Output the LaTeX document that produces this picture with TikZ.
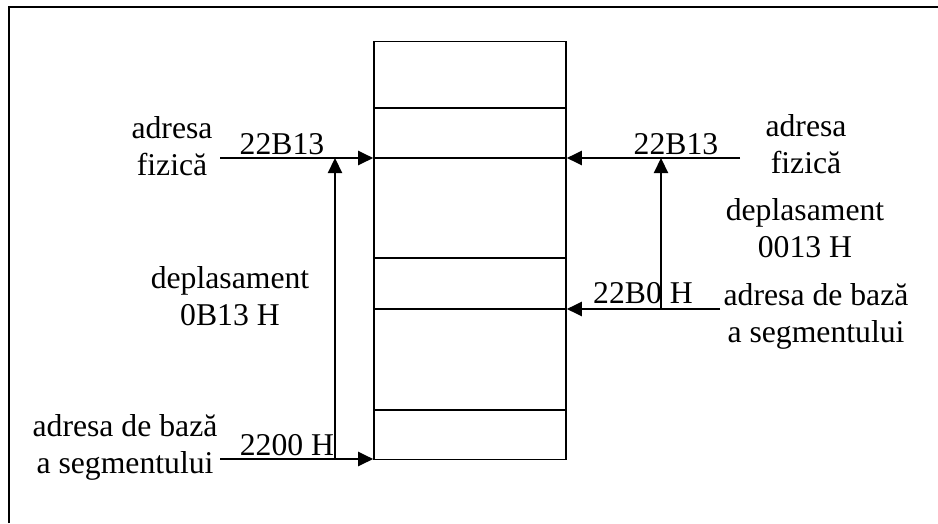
\documentclass[tikz,border=0pt]{standalone}
\usepackage{fontspec}
\setmainfont{Liberation Serif}
\usetikzlibrary{arrows.meta}
\begin{document}
\begin{tikzpicture}[x=1pt,y=-1pt,
  frameline/.style={line width=1.8pt},
  cellline/.style={line width=1.6pt},
  conn/.style={line width=2.2pt,-{Triangle[length=15pt,width=14pt]}},
  lbl/.style={inner sep=0pt,anchor=base,align=center,font=\fontsize{31.7pt}{37pt}\selectfont}]
\useasboundingbox (0,0) rectangle (938,523);
% outer frame (only top and left edges visible)
\draw[frameline] (9,523) -- (9,7) -- (938,7);
% memory column
\node[draw,cellline,minimum width=192pt,minimum height=418pt,inner sep=0pt] (mem) at (470,250.5) {};
\foreach \yy in {108,158,258,309,410}
  \draw[cellline] (mem.west |- 0,\yy) -- (mem.east |- 0,\yy);
% connector targets on the column
\coordinate (phL) at (mem.west |- 0,158);
\coordinate (baseL) at (mem.west |- 0,459);
\coordinate (phR) at (mem.east |- 0,158);
\coordinate (baseR) at (mem.east |- 0,309);
% free ends
\coordinate (phLs) at (220,158);
\coordinate (baseLs) at (220,459);
\coordinate (phRs) at (740,158);
\coordinate (baseRs) at (720,309);
\coordinate (offLb) at (335,459);
\coordinate (offLt) at (335,158);
\coordinate (offRb) at (661,309);
\coordinate (offRt) at (661,158);
% arrows
\draw[conn] (phLs) -- (phL);
\draw[conn] (baseLs) -- (baseL);
\draw[conn] (offLb) -- (offLt);
\draw[conn] (phRs) -- (phR);
\draw[conn] (baseRs) -- (baseR);
\draw[conn] (offRb) -- (offRt);
% labels left (base anchor = baseline of the last line)
\node[lbl] (tphL) at (172,175) {adresa\\fizică};
\node[lbl] (vphL) at (282,154) {22B13};
\node[lbl] (tdepL) at (230,325) {deplasament\\0B13 H};
\node[lbl] (tbaseL) at (125,473) {adresa de bază\\a segmentului};
\node[lbl] (vbaseL) at (287,455) {2200 H};
% labels right
\node[lbl] (vphR) at (676,154) {22B13};
\node[lbl] (tphR) at (806,173) {adresa\\fizică};
\node[lbl] (tdepR) at (805,257) {deplasament\\0013 H};
\node[lbl] (vbaseR) at (643,303) {22B0 H};
\node[lbl] (tbaseR) at (816,342) {adresa de bază\\a segmentului};
\end{tikzpicture}
\end{document}
